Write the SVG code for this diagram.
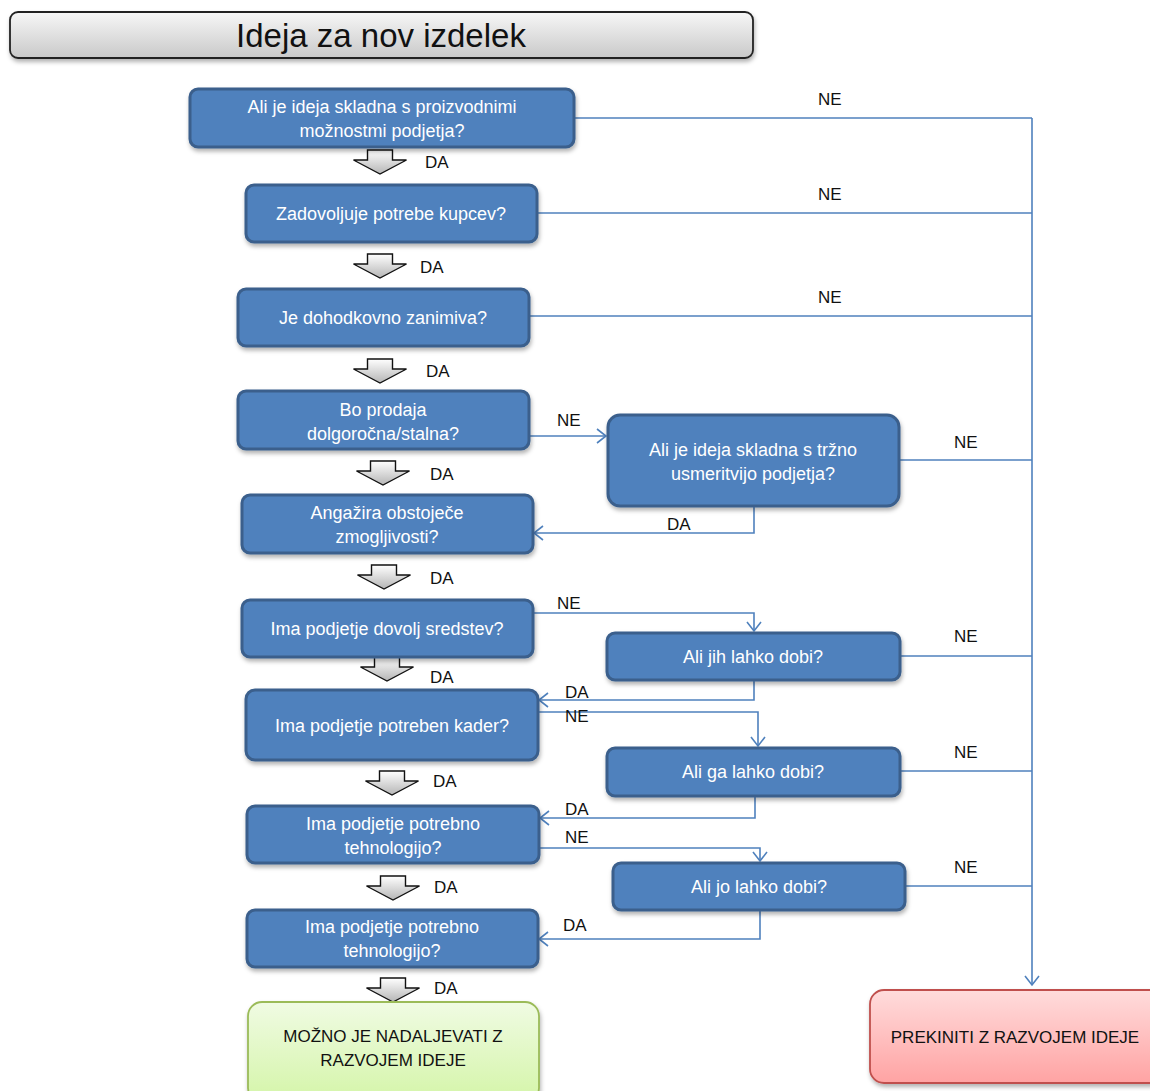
<svg xmlns="http://www.w3.org/2000/svg" xmlns:xlink="http://www.w3.org/1999/xlink" width="1150" height="1091" viewBox="0 0 1150 1091">
<defs>
<linearGradient id="gTitle" x1="0" y1="0" x2="0" y2="1"><stop offset="0" stop-color="#F7F7F7"/><stop offset="1" stop-color="#C9C9C9"/></linearGradient>
<linearGradient id="gArrow" x1="0" y1="0" x2="0" y2="1"><stop offset="0" stop-color="#FFFFFF"/><stop offset="1" stop-color="#B5B5B5"/></linearGradient>
<linearGradient id="gGreen" x1="0" y1="0" x2="0" y2="1"><stop offset="0" stop-color="#F0FBE3"/><stop offset="1" stop-color="#D4F5A8"/></linearGradient>
<linearGradient id="gRed" x1="0" y1="0" x2="0" y2="1"><stop offset="0" stop-color="#FFDCDC"/><stop offset="1" stop-color="#FFA3A3"/></linearGradient>
<filter id="sh" x="-10%" y="-10%" width="120%" height="130%"><feDropShadow dx="1" dy="3" stdDeviation="2" flood-color="#000" flood-opacity="0.3"/></filter>
<marker id="open" markerWidth="12" markerHeight="16" refX="10" refY="8" orient="auto" markerUnits="userSpaceOnUse"><path d="M1,1 L10,8 L1,15" fill="none" stroke="#4F81BD" stroke-width="1.6"/></marker>
<path id="blk" d="M-12.5,0 H12.5 V10 H26.5 L0,24 L-26.5,10 H-12.5 Z"/>
</defs>
<style>
.box{fill:#4F81BD;stroke:#3A5F8C;stroke-width:3;filter:url(#sh)}
.bt{font-family:"Liberation Sans",Arial,sans-serif;font-size:18px;fill:#FFFFFF;text-anchor:middle}
.lbl{font-family:"Liberation Sans",Arial,sans-serif;font-size:17px;fill:#111}
.con{fill:none;stroke:#4F81BD;stroke-width:1.6}
.ba{fill:url(#gArrow);stroke:#111;stroke-width:1.4}
.dk{font-family:"Liberation Sans",Arial,sans-serif;font-size:17px;fill:#111;text-anchor:middle}
</style>
<rect width="1150" height="1091" fill="#FFFFFF"/>

<g id="title">
<rect x="10" y="12" width="743" height="46" rx="8" fill="url(#gTitle)" stroke="#222" stroke-width="1.8" filter="url(#sh)"/>
<text x="381" y="47" font-family="Liberation Sans, Arial, sans-serif" font-size="33" fill="#111" text-anchor="middle">Ideja za nov izdelek</text>
</g>

<g id="connectors">
<path class="con" d="M1032,118 V985" marker-end="url(#open)"/>
<path class="con" d="M574,118 H1032"/>
<path class="con" d="M537,213 H1032"/>
<path class="con" d="M529,316 H1032"/>
<path class="con" d="M529,436 H606" marker-end="url(#open)"/>
<path class="con" d="M899,460 H1032"/>
<path class="con" d="M754,506 V533 H534" marker-end="url(#open)"/>
<path class="con" d="M533,613 H754 V631" marker-end="url(#open)"/>
<path class="con" d="M899,656 H1032"/>
<path class="con" d="M754,680 V700 H539" marker-end="url(#open)"/>
<path class="con" d="M538,712 H758 V746" marker-end="url(#open)"/>
<path class="con" d="M900,771 H1032"/>
<path class="con" d="M755,796 V818 H540" marker-end="url(#open)"/>
<path class="con" d="M539,848 H760 V861" marker-end="url(#open)"/>
<path class="con" d="M905,886 H1032"/>
<path class="con" d="M760,910 V939 H539" marker-end="url(#open)"/>
<use href="#blk" class="ba" x="380" y="150"/>
<use href="#blk" class="ba" x="380" y="254"/>
<use href="#blk" class="ba" x="380" y="359"/>
<use href="#blk" class="ba" x="383" y="461"/>
<use href="#blk" class="ba" x="384" y="565"/>
<use href="#blk" class="ba" x="387" y="657"/>
<use href="#blk" class="ba" x="392" y="771"/>
<use href="#blk" class="ba" x="393" y="876"/>
<use href="#blk" class="ba" x="393" y="978"/>
<text class="lbl" x="425" y="168">DA</text>
<text class="lbl" x="420" y="273">DA</text>
<text class="lbl" x="426" y="377">DA</text>
<text class="lbl" x="430" y="480">DA</text>
<text class="lbl" x="430" y="584">DA</text>
<text class="lbl" x="430" y="683">DA</text>
<text class="lbl" x="433" y="787">DA</text>
<text class="lbl" x="434" y="893">DA</text>
<text class="lbl" x="434" y="994">DA</text>
<text class="lbl" x="818" y="105">NE</text>
<text class="lbl" x="818" y="200">NE</text>
<text class="lbl" x="818" y="303">NE</text>
<text class="lbl" x="557" y="426">NE</text>
<text class="lbl" x="954" y="448">NE</text>
<text class="lbl" x="667" y="530">DA</text>
<text class="lbl" x="557" y="609">NE</text>
<text class="lbl" x="954" y="642">NE</text>
<text class="lbl" x="565" y="698">DA</text>
<text class="lbl" x="565" y="722">NE</text>
<text class="lbl" x="954" y="758">NE</text>
<text class="lbl" x="565" y="815">DA</text>
<text class="lbl" x="565" y="843">NE</text>
<text class="lbl" x="954" y="873">NE</text>
<text class="lbl" x="563" y="931">DA</text>
</g>

<g id="n1"><rect class="box" x="190" y="89" width="384" height="58" rx="8"/><text class="bt" x="382" y="113">Ali je ideja skladna s proizvodnimi</text><text class="bt" x="382" y="137">možnostmi podjetja?</text></g>
<g id="n2"><rect class="box" x="246" y="185" width="291" height="57" rx="8"/><text class="bt" x="391" y="220">Zadovoljuje potrebe kupcev?</text></g>
<g id="n3"><rect class="box" x="238" y="289" width="291" height="57" rx="8"/><text class="bt" x="383" y="324">Je dohodkovno zanimiva?</text></g>
<g id="n4"><rect class="box" x="238" y="391" width="291" height="58" rx="8"/><text class="bt" x="383" y="416">Bo prodaja</text><text class="bt" x="383" y="440">dolgoročna/stalna?</text></g>
<g id="n5"><rect class="box" x="242" y="495" width="291" height="58" rx="8"/><text class="bt" x="387" y="519">Angažira obstoječe</text><text class="bt" x="387" y="543">zmogljivosti?</text></g>
<g id="n6"><rect class="box" x="242" y="600" width="291" height="57" rx="8"/><text class="bt" x="387" y="635">Ima podjetje dovolj sredstev?</text></g>
<g id="n7"><rect class="box" x="246" y="690" width="292" height="70" rx="9"/><text class="bt" x="392" y="732">Ima podjetje potreben kader?</text></g>
<g id="n8"><rect class="box" x="247" y="806" width="292" height="57" rx="8"/><text class="bt" x="393" y="830">Ima podjetje potrebno</text><text class="bt" x="393" y="854">tehnologijo?</text></g>
<g id="n9"><rect class="box" x="247" y="910" width="291" height="57" rx="8"/><text class="bt" x="392" y="933">Ima podjetje potrebno</text><text class="bt" x="392" y="957">tehnologijo?</text></g>
<g id="r1"><rect class="box" x="608" y="415" width="291" height="91" rx="12"/><text class="bt" x="753" y="456">Ali je ideja skladna s tržno</text><text class="bt" x="753" y="480">usmeritvijo podjetja?</text></g>
<g id="r2"><rect class="box" x="607" y="633" width="293" height="47" rx="8"/><text class="bt" x="753" y="663">Ali jih lahko dobi?</text></g>
<g id="r3"><rect class="box" x="607" y="748" width="293" height="48" rx="8"/><text class="bt" x="753" y="778">Ali ga lahko dobi?</text></g>
<g id="r4"><rect class="box" x="613" y="863" width="292" height="47" rx="8"/><text class="bt" x="759" y="893">Ali jo lahko dobi?</text></g>
<g id="yes"><rect x="248" y="1002" width="291" height="100" rx="14" fill="url(#gGreen)" stroke="#9BBB59" stroke-width="1.8" filter="url(#sh)"/><text class="dk" x="393" y="1042">MOŽNO JE NADALJEVATI Z</text><text class="dk" x="393" y="1066">RAZVOJEM IDEJE</text></g>
<g id="no"><rect x="870" y="990" width="295" height="93" rx="14" fill="url(#gRed)" stroke="#C0504D" stroke-width="1.8" filter="url(#sh)"/><text class="dk" x="1015" y="1043">PREKINITI Z RAZVOJEM IDEJE</text></g>
</svg>
